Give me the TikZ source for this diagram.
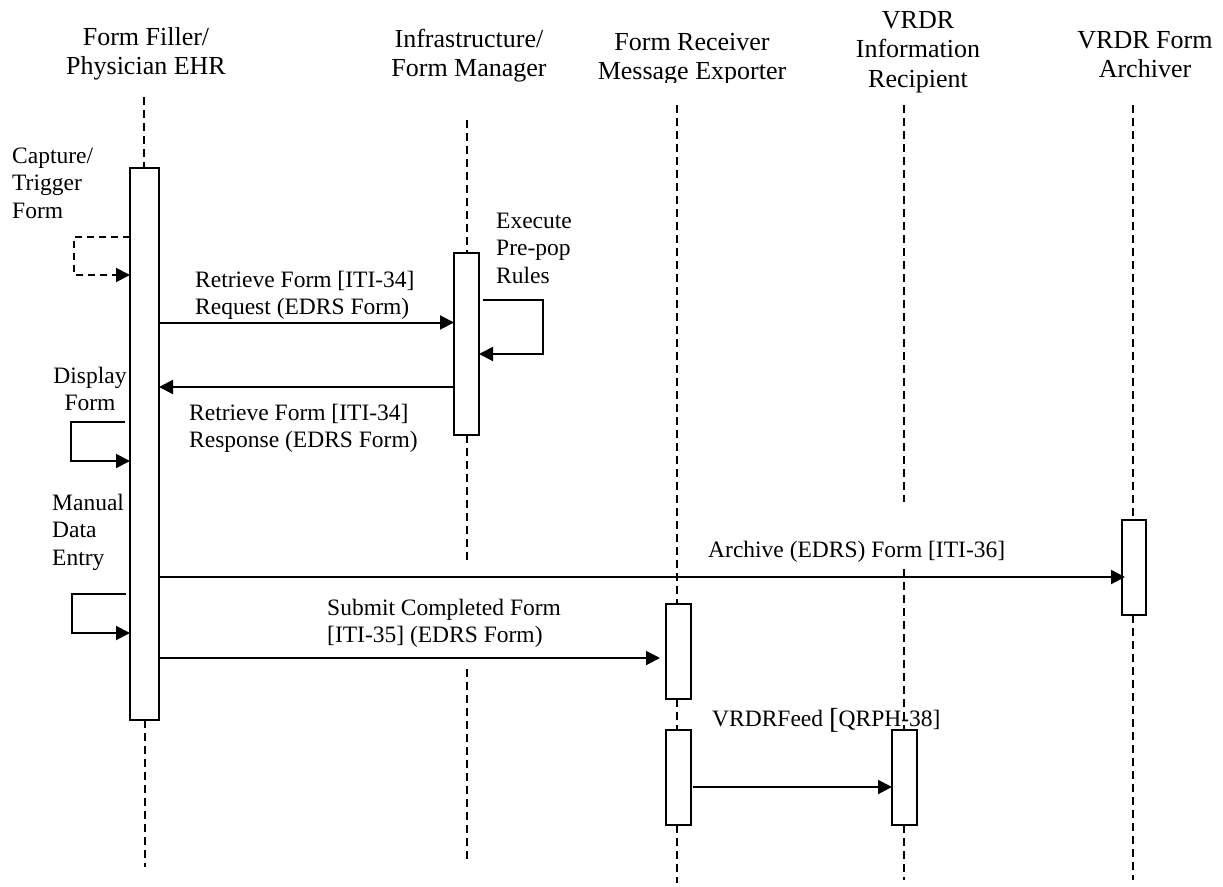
\documentclass[tikz,border=0pt]{standalone}
\usepackage{fontspec}
\setmainfont{Liberation Serif}
\usetikzlibrary{arrows.meta}
\begin{document}
\begin{tikzpicture}[x=1pt,y=-1pt,
  lifeline/.style={dash pattern=on 8pt off 5pt, line width=1.6pt},
  actbox/.style={draw, line width=2pt, fill=white, inner sep=0pt, outer sep=0pt},
  msg/.style={line width=2pt, -{Triangle[length=14pt,width=14pt]}},
  selfmsg/.style={msg, line join=miter},
  dmsg/.style={msg, dash pattern=on 7pt off 5pt},
  ttl/.style={font=\fontsize{26}{29.5}\selectfont, align=center, inner sep=0pt, anchor=north},
  lbl/.style={font=\fontsize{23.5}{27.5}\selectfont, align=left, inner sep=0pt, anchor=north west},
  clbl/.style={lbl, align=center, anchor=north}
]
\useasboundingbox (0,0) rectangle (1223,886);

% titles (baseline of first line minus strut height 20.65)
\node[ttl] (t1) at (146,24.35) {\strut Form Filler/\\Physician EHR};
\node[ttl] (t2) at (469,26.35) {\strut Infrastructure/\\Form Manager};
\begin{scope}
\clip (560,0) rectangle (820,82);
\node[ttl] (t3) at (692,29.35) {\strut Form Receiver\\Message Exporter};
\end{scope}
\node[ttl] (t4) at (918,7.35) {\strut VRDR\\Information\\Recipient};
\node[ttl] (t5) at (1145,27.35) {\strut VRDR Form\\Archiver};

% lifeline end points
\coordinate (l1a) at (144,97);   \coordinate (l1b) at (145,867);
\coordinate (l2a) at (467,120);  \coordinate (l2b) at (467,562);
\coordinate (l2c) at (467,669);  \coordinate (l2d) at (467,862);
\coordinate (l3a) at (677,105);  \coordinate (l3b) at (677,883);
\coordinate (l4a) at (904,105);  \coordinate (l4b) at (904,502);
\coordinate (l4c) at (904,569);  \coordinate (l4d) at (904,880);
\coordinate (l5a) at (1133,105); \coordinate (l5b) at (1133,880);

% activation boxes (placed first as coordinates for anchors, drawn after lifelines)
\path
  node[actbox, draw=none, fill=none, minimum width=29pt, minimum height=552pt] (a1) at (144.5,444) {}
  node[actbox, draw=none, fill=none, minimum width=25pt, minimum height=182pt] (a2) at (466.5,344) {}
  node[actbox, draw=none, fill=none, minimum width=25pt, minimum height=95pt] (a3) at (678.5,651.5) {}
  node[actbox, draw=none, fill=none, minimum width=25pt, minimum height=95pt] (a4) at (678.5,777.5) {}
  node[actbox, draw=none, fill=none, minimum width=25pt, minimum height=95pt] (a5) at (904.5,777.5) {}
  node[actbox, draw=none, fill=none, minimum width=24pt, minimum height=95pt] (a6) at (1134,567.5) {};

% lifelines
\draw[lifeline] (l1a) -- (l1a |- a1.north);
\draw[lifeline] (l1b |- a1.south) -- (l1b);
\draw[lifeline] (l2a) -- (l2a |- a2.north);
\draw[lifeline] (l2b |- a2.south) -- (l2b);
\draw[lifeline] (l2c) -- (l2d);
\draw[lifeline] (l3a) -- (l3a |- a3.north);
\draw[lifeline] (l3a |- a3.south) -- (l3a |- a4.north);
\draw[lifeline] (l3b |- a4.south) -- (l3b);
\draw[lifeline] (l4a) -- (l4b);
\draw[lifeline] (l4c) -- (l4c |- a5.north);
\draw[lifeline] (l4d |- a5.south) -- (l4d);
\draw[lifeline] (l5a) -- (l5a |- a6.north);
\draw[lifeline] (l5b |- a6.south) -- (l5b);

% draw boxes
\foreach \b in {a1,a2,a3,a4,a5,a6}
  \draw[line width=2pt, fill=white] (\b.north west) rectangle (\b.south east);

% message rows
\coordinate (y1) at (0,237);  \coordinate (y1b) at (0,275);
\coordinate (y2) at (0,322.5);
\coordinate (y3) at (0,300);  \coordinate (y3b) at (0,354);
\coordinate (y4) at (0,387);
\coordinate (y5) at (0,422);  \coordinate (y5b) at (0,461);
\coordinate (y6) at (0,594);  \coordinate (y6b) at (0,633);
\coordinate (y7) at (0,577);
\coordinate (y8) at (0,658);
\coordinate (y9) at (0,787);

% capture/trigger (dashed self message)
\draw[dmsg] (a1.west |- y1) -- (74,237) -- (74,275) -- (a1.west |- y1b);
% retrieve request
\draw[msg] (a1.east |- y2) -- (a2.west |- y2);
% execute pre-pop rules
\draw[selfmsg] (483,300) -- (543,300) -- (543,354) -- (a2.east |- y3b);
% retrieve response
\draw[msg] (a2.west |- y4) -- (a1.east |- y4);
% display form
\draw[selfmsg] (125,422) -- (71,422) -- (71,461) -- (a1.west |- y5b);
% manual data entry
\draw[selfmsg] (126,594) -- (72,594) -- (72,633) -- (a1.west |- y6b);
% archive
\draw[msg] (a1.east |- y7) -- ([xshift=3pt]a6.west |- y7);
% submit
\draw[msg] (a1.east |- y8) -- ([xshift=-6pt]a3.west |- y8);
% VRDR feed
\draw[msg] ([xshift=2pt]a4.east |- y9) -- (a5.west |- y9);

% labels (anchor = first baseline minus strut height 19.25)
\node[lbl] (lcap) at (12,143.75) {\strut Capture/\\Trigger\\Form};
\node[lbl] (lreq) at (195,267.75) {\strut Retrieve Form [ITI-34]\\Request (EDRS Form)};
\node[lbl] (lexe) at (496,208.75) {\strut Execute\\Pre-pop\\Rules};
\node[clbl] (ldis) at (90,363.75) {\strut Display\\Form};
\node[lbl] (lres) at (189,400.75) {\strut Retrieve Form [ITI-34]\\Response (EDRS Form)};
\node[lbl] (lman) at (52,490.75) {\strut Manual\\Data\\Entry};
\node[lbl] (larc) at (708,537.75) {\strut Archive (EDRS) Form [ITI-36]};
\node[lbl] (lsub) at (327,595.75) {\strut Submit Completed Form\\[0pt][ITI-35] (EDRS Form)};
\node[lbl] (lfeed) at (712,706.75) {\strut VRDRFeed \raisebox{-2.5pt}{\fontsize{29}{29}\selectfont[}QRPH-38]};
\end{tikzpicture}
\end{document}
